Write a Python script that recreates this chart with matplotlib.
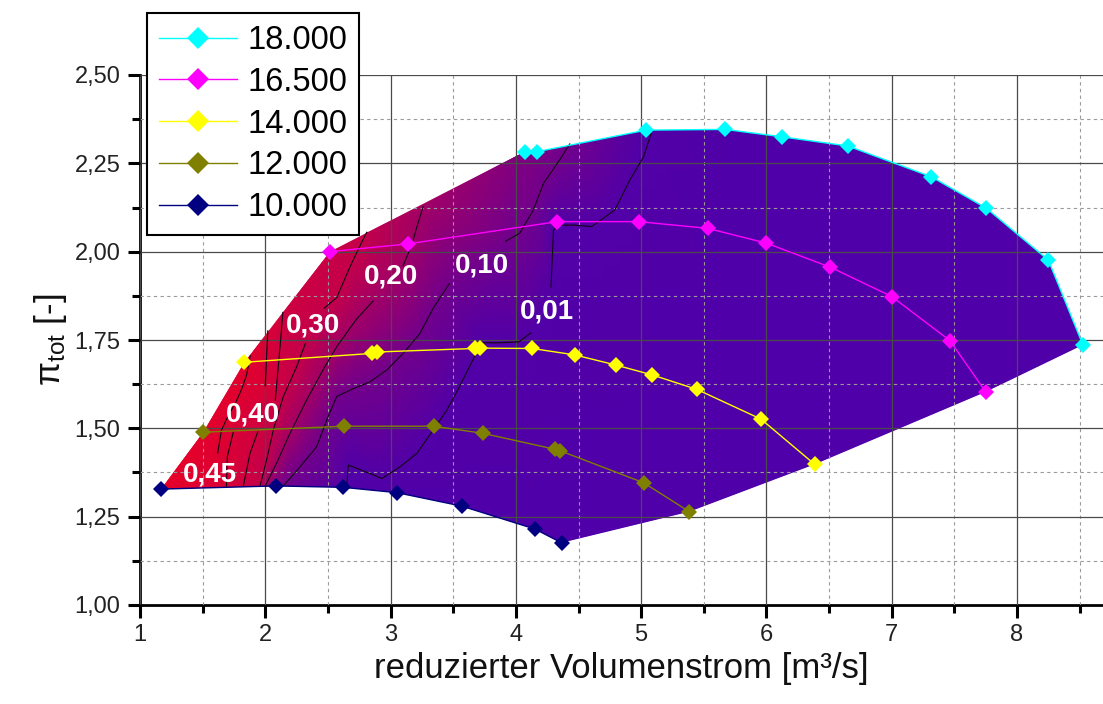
import matplotlib
matplotlib.use("Agg")
import matplotlib.pyplot as plt
import matplotlib.tri as mtri
import numpy as np
from matplotlib import font_manager
from matplotlib.colors import LinearSegmentedColormap
from matplotlib.patches import Polygon
from matplotlib.ticker import FuncFormatter, MultipleLocator

installed = {f.name for f in font_manager.fontManager.ttflist}
FONT = "Liberation Sans" if "Liberation Sans" in installed else "DejaVu Sans"
plt.rcParams["font.family"] = [FONT, "DejaVu Sans"]
plt.rcParams["mathtext.fontset"] = "custom"
plt.rcParams["mathtext.rm"] = FONT
plt.rcParams["mathtext.it"] = FONT + ":italic"

# speed lines
labels = ["18.000", "16.500", "14.000", "12.000", "10.000"]
colors = ["#00ffff", "#ff00ff", "#ffff00", "#808000", "#000080"]

x18 = [4.07, 4.17, 5.04, 5.67, 6.125, 6.65, 7.315, 7.755, 8.25, 8.526]
y18 = [2.283, 2.283, 2.344, 2.346, 2.325, 2.299, 2.212, 2.123, 1.976, 1.736]
x165 = [2.516, 3.137, 4.33, 4.98, 5.53, 6.0, 6.51, 7.0, 7.465, 7.75]
y165 = [2.0, 2.022, 2.085, 2.085, 2.066, 2.024, 1.956, 1.873, 1.748, 1.603]
x14 = [1.833, 2.85, 2.89, 3.67, 3.71, 4.13, 4.468, 4.80, 5.09, 5.446, 5.957, 6.385]
y14 = [1.687, 1.712, 1.716, 1.726, 1.727, 1.726, 1.708, 1.679, 1.651, 1.610, 1.526, 1.398]
x12 = [1.505, 2.628, 3.346, 3.735, 4.31, 4.35, 5.02, 5.385]
y12 = [1.489, 1.506, 1.506, 1.486, 1.441, 1.437, 1.346, 1.264]
x10 = [1.168, 2.085, 2.623, 3.05, 3.567, 4.152, 4.365]
y10 = [1.328, 1.337, 1.333, 1.318, 1.280, 1.215, 1.176]

# efficiency iso-lines (nan = gap under the label)
nan = np.nan
iso_levels = [0.45, 0.40, 0.35, 0.30, 0.20, 0.10, 0.01]
iso_x = [
    [1.62, 1.65, 1.71, 1.76, 1.81, 1.85, 1.88],
    [1.69, 1.697, 1.745, nan, 2.0, 2.01, 2.02],
    [1.825, 1.878, 1.94, nan, 2.08, 2.10, 2.12, 2.14],
    [1.958, 2.01, 2.064, 2.144, 2.25, 2.32, nan, 2.47, 2.57, 2.68, 2.76, 2.81],
    [2.0, 2.09, 2.197, 2.33, 2.46, 2.57, 2.73, 2.86, nan, 3.10, 3.17, 3.21, 3.26],
    [2.144, 2.277, 2.41, 2.49, 2.57, 2.676, 2.836, 2.97, 3.10, 3.235, 3.34, 3.47,
     nan, 3.92, 4.03, 4.14, 4.22, 4.35, 4.43],
    [2.65, 2.663, 2.836, 2.93, 3.075, 3.21, 3.34, 3.45, 3.55, 3.67, 3.687, 3.87, 4.024, 4.12,
     nan, 4.28, 4.30, 4.34, 4.468, 4.605, 4.79, 4.91, 5.02, 5.08],
]
iso_y = [
    [1.43, 1.495, 1.54, 1.57, 1.61, 1.65, 1.705],
    [1.337, 1.42, 1.49, nan, 1.62, 1.70, 1.776],
    [1.337, 1.429, 1.49, nan, 1.58, 1.66, 1.74, 1.828],
    [1.337, 1.41, 1.495, 1.59, 1.674, 1.74, nan, 1.84, 1.87, 1.96, 2.02, 2.055],
    [1.337, 1.401, 1.486, 1.58, 1.665, 1.731, 1.81, 1.86, nan, 1.96, 2.02, 2.07, 2.128],
    [1.337, 1.391, 1.448, 1.523, 1.59, 1.608, 1.632, 1.665, 1.712, 1.769, 1.84, 1.91,
     nan, 2.03, 2.052, 2.118, 2.193, 2.26, 2.305],
    [1.337, 1.396, 1.372, 1.358, 1.391, 1.429, 1.495, 1.552, 1.618, 1.703, 1.742, 1.742, 1.745, 1.77,
     nan, 1.90, 2.061, 2.075, 2.075, 2.071, 2.118, 2.203, 2.269, 2.335],
]
iso_text = ["0,45", "0,40", "0,30", "0,20", "0,10", "0,01"]
iso_text_x = [1.56, 1.90, 2.38, 3.00, 3.73, 4.25]
iso_text_y = [1.37, 1.54, 1.79, 1.93, 1.96, 1.83]

# extra colour anchors (efficiency estimated from the shading)
anchor_x = [1.168, 1.505, 1.833, 2.516, 4.07, 4.17, 5.04, 5.67, 6.125, 6.65, 7.315, 7.755,
            8.25, 8.526, 7.75, 6.385, 5.385, 4.365, 4.152, 3.567, 3.05, 5.6, 6.6, 5.0]
anchor_y = [1.328, 1.489, 1.687, 2.0, 2.283, 2.283, 2.344, 2.346, 2.325, 2.299, 2.212, 2.123,
            1.976, 1.736, 1.603, 1.398, 1.264, 1.176, 1.215, 1.28, 1.30, 1.9, 1.7, 1.5]
anchor_val = [0.50, 0.48, 0.46, 0.32, 0.13, 0.12, 0.0, 0.0, 0.0, 0.0, 0.0, 0.0,
              0.0, 0.0, 0.0, 0.0, 0.0, 0.0, 0.0, 0.0, 0.0, 0.0, 0.0, 0.0]

shade = LinearSegmentedColormap.from_list(
    "eta",
    [(0.0, "#5000a8"), (0.1, "#5800a2"), (0.2, "#72008c"), (0.4, "#a20066"),
     (0.6, "#c4004a"), (0.8, "#da0036"), (1.0, "#e6002a")],
)

fig = plt.figure(figsize=(11.03, 7.04), dpi=100)
ax = fig.add_axes([140 / 1103, 99 / 704, 963 / 1103, 530 / 704])

# shaded map region, outline taken from the outer speed lines
px = x10 + [x12[-1], x14[-1], x165[-1]] + x18[::-1] + [x165[0], x14[0], x12[0]]
py = y10 + [y12[-1], y14[-1], y165[-1]] + y18[::-1] + [y165[0], y14[0], y12[0]]
region = Polygon(np.column_stack([px, py]), closed=True, facecolor="none",
                 edgecolor="none", transform=ax.transData)
ax.add_patch(region)

fx, fy, fz = list(anchor_x), list(anchor_y), list(anchor_val)
for lev, xs, ys in zip(iso_levels, iso_x, iso_y):
    for a, b in zip(xs, ys):
        if not np.isnan(a):
            fx.append(a)
            fy.append(b)
            fz.append(lev)
tri = mtri.Triangulation(fx, fy)
tpc = ax.tripcolor(tri, fz, shading="gouraud", cmap=shade, vmin=0.0, vmax=0.5, zorder=1)
tpc.set_clip_path(region)

for xs, ys in zip(iso_x, iso_y):
    ax.plot(xs, ys, color="#140014", lw=0.8, zorder=3)

for t, tx, ty in zip(iso_text, iso_text_x, iso_text_y):
    ax.text(tx, ty, t, color="white", fontsize=20, fontweight="bold",
            ha="center", va="center", zorder=5)

series = [(x18, y18), (x165, y165), (x14, y14), (x12, y12), (x10, y10)]
handles = []
for (xs, ys), lab, col in zip(series, labels, colors):
    h, = ax.plot(xs, ys, color=col, lw=1.0, marker="D", markersize=8.5,
                 markeredgewidth=0, label=lab, zorder=4)
    handles.append(h)

ax.set_xlim(1.0, 8.686)
ax.set_ylim(1.0, 2.5)
ax.xaxis.set_major_locator(MultipleLocator(1))
ax.xaxis.set_minor_locator(MultipleLocator(0.5))
ax.yaxis.set_major_locator(MultipleLocator(0.25))
ax.yaxis.set_minor_locator(MultipleLocator(0.125))
ax.yaxis.set_major_formatter(FuncFormatter(lambda v, p: f"{v:.2f}".replace(".", ",")))

ax.set_axisbelow(False)
ax.grid(which="major", color="#4a4a4a", lw=0.9, ls="-")
ax.grid(which="minor", color="#9a9a9a", lw=0.8, ls=(0, (3, 3)))

for s in ("top", "right"):
    ax.spines[s].set_visible(False)
for s in ("left", "bottom"):
    ax.spines[s].set_linewidth(2)
ax.tick_params(which="major", direction="out", length=9, width=2.2,
               labelsize=17, labelcolor="#222222", pad=5)
ax.tick_params(which="minor", direction="out", length=6, width=2.2)

ax.set_xlabel("reduzierter Volumenstrom [m³/s]", fontsize=25, color="#111111")
ax.set_ylabel("π$_{\\mathrm{tot}}$ [-]", fontsize=25, color="#111111")

leg = fig.legend(handles=handles, loc="upper left", bbox_to_anchor=(147 / 1103, 1 - 13 / 704),
                 bbox_transform=fig.transFigure, fontsize=23.5, frameon=True, fancybox=False,
                 edgecolor="black", framealpha=1, borderaxespad=0, borderpad=0.37,
                 labelspacing=0.33, handlelength=2.4, handletextpad=0.3, markerscale=1.3)
leg.get_frame().set_linewidth(1.5)

fig.savefig("out.png", dpi=100)
